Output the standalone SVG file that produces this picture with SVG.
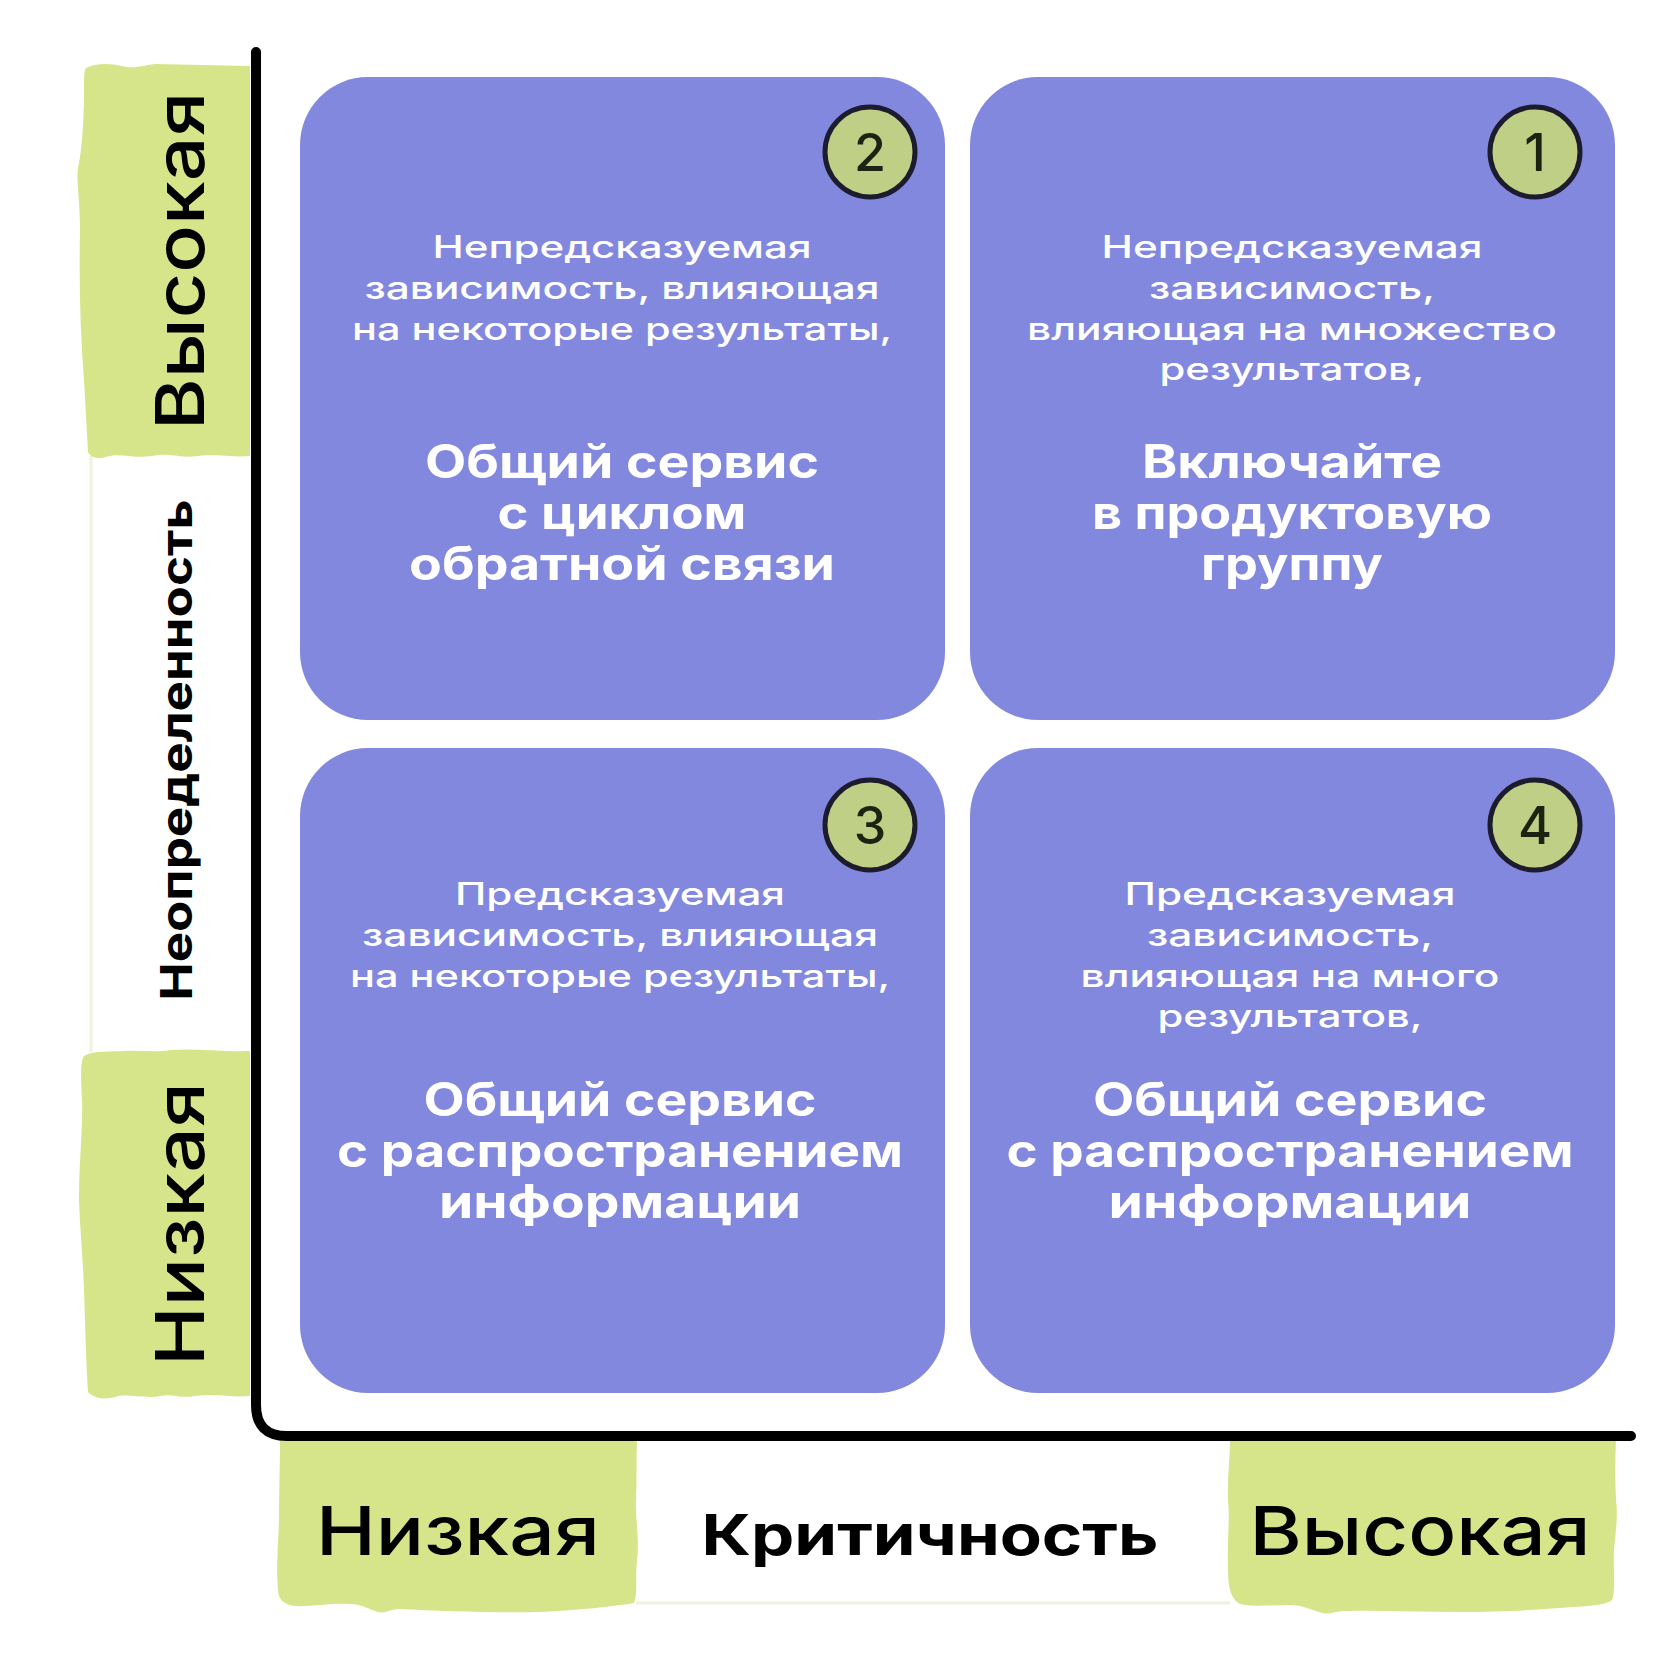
<svg xmlns="http://www.w3.org/2000/svg" width="1680" height="1675" viewBox="0 0 1680 1675">
<style>
.card{fill:#8388df}
.tape{fill:#d6e58a}
.badge{fill:#bfd086;stroke:#1c1c2e;stroke-width:5}
.num{font-family:Inter,"Liberation Sans",sans-serif;font-size:52px;font-weight:500;fill:#1d2212;text-anchor:middle}
.sub{font-family:Inter,"Liberation Sans",sans-serif;font-size:31px;font-weight:500;fill:#ffffff;text-anchor:middle}
.bold{font-family:Inter,"Liberation Sans",sans-serif;font-size:46px;font-weight:700;fill:#ffffff;text-anchor:middle}
.lab{font-family:Inter,"Liberation Sans",sans-serif;font-size:68px;font-weight:500;fill:#000000;text-anchor:middle}
.labb{font-family:Inter,"Liberation Sans",sans-serif;font-weight:700;fill:#000000;text-anchor:middle}
.axis{fill:none;stroke:#000000;stroke-width:10;stroke-linecap:round;stroke-linejoin:round}
</style>
<rect width="1680" height="1675" fill="#ffffff"/>

<g id="y-labels">
  <rect x="90" y="452" width="160" height="602" fill="#ffffff"/>
  <line x1="91" y1="456" x2="91" y2="1052" stroke="#eef3dc" stroke-width="3"/>
  <path class="tape" d="M86,68 C95,63 110,63 122,66 C132,69 140,66 155,64 L250,66 L250,456 C232,458 215,453 198,456 C182,459 170,452 152,456 C135,459 118,452 106,457 C96,460 90,456 88,452 L84,380 C80,330 79,280 80,230 C80,200 76,180 78,168 C82,150 84,120 84,90 C84,78 84,72 86,68 Z"/>
  <path class="tape" d="M84,1056 C95,1050 110,1052 125,1051 C140,1050 155,1053 170,1050 C195,1048 220,1052 250,1051 L250,1396 C235,1398 215,1393 195,1396 C180,1399 172,1393 160,1396 C145,1399 128,1393 115,1397 C100,1401 92,1396 88,1392 C86,1360 85,1320 84,1290 C83,1260 80,1230 79,1200 C79,1160 83,1130 82,1100 C81,1080 80,1062 84,1056 Z"/>
  <text class="lab" transform="translate(204,261) rotate(-90)" textLength="338" lengthAdjust="spacingAndGlyphs">Высокая</text>
  <text class="labb" font-size="44" transform="translate(192,750) rotate(-90)" textLength="501" lengthAdjust="spacingAndGlyphs">Неопределенность</text>
  <text class="lab" transform="translate(204,1224) rotate(-90)" textLength="284" lengthAdjust="spacingAndGlyphs">Низкая</text>
</g>

<g id="x-labels">
  <rect x="634" y="1440" width="596" height="164" fill="#ffffff"/>
  <line x1="636" y1="1603" x2="1230" y2="1603" stroke="#eef3dc" stroke-width="3"/>
  <path class="tape" d="M280,1440 L637,1440 C636,1460 637,1480 636,1500 C635,1520 640,1540 637,1560 C635,1580 638,1595 634,1603 C610,1607 580,1610 540,1612 C500,1613 440,1611 400,1609 C390,1609 385,1614 378,1612 C370,1610 362,1604 350,1604 C330,1603 310,1607 295,1606 C283,1605 278,1598 278,1590 C276,1570 278,1550 279,1520 C279,1490 280,1465 280,1440 Z"/>
  <path class="tape" d="M1230,1440 L1616,1440 C1615,1460 1615,1480 1616,1500 C1618,1515 1616,1530 1614,1550 C1613,1570 1616,1590 1612,1600 C1605,1606 1585,1606 1560,1608 C1530,1610 1500,1612 1460,1612 C1420,1612 1380,1610 1345,1611 C1335,1611 1330,1615 1322,1613 C1312,1610 1302,1605 1290,1605 C1270,1605 1250,1607 1240,1604 C1232,1600 1228,1590 1228,1570 C1227,1540 1230,1520 1228,1500 C1227,1480 1230,1460 1230,1440 Z"/>
  <text class="lab" x="458" y="1555" textLength="284" lengthAdjust="spacingAndGlyphs">Низкая</text>
  <text class="labb" font-size="56" x="930" y="1555" textLength="457" lengthAdjust="spacingAndGlyphs">Критичность</text>
  <text class="lab" x="1420" y="1555" textLength="341" lengthAdjust="spacingAndGlyphs">Высокая</text>
</g>

<g id="connectors">
  <path class="axis" d="M256,52 L256,1405 Q256,1436 287,1436 L1631,1436"/>
</g>

<g id="card-2">
  <rect class="card" x="300" y="77" width="645" height="643" rx="68"/>
  <circle class="badge" cx="870" cy="152" r="45"/>
  <text class="num" x="870" y="171">2</text>
  <text class="sub" x="622" y="258" textLength="379" lengthAdjust="spacingAndGlyphs">Непредсказуемая</text>
  <text class="sub" x="622" y="299" textLength="515" lengthAdjust="spacingAndGlyphs">зависимость, влияющая</text>
  <text class="sub" x="622" y="340" textLength="540" lengthAdjust="spacingAndGlyphs">на некоторые результаты,</text>
  <text class="bold" x="622" y="478" textLength="394" lengthAdjust="spacingAndGlyphs">Общий сервис</text>
  <text class="bold" x="622" y="529" textLength="249" lengthAdjust="spacingAndGlyphs">с циклом</text>
  <text class="bold" x="622" y="580" textLength="426" lengthAdjust="spacingAndGlyphs">обратной связи</text>
</g>

<g id="card-1">
  <rect class="card" x="970" y="77" width="645" height="643" rx="68"/>
  <circle class="badge" cx="1535" cy="152" r="45"/>
  <text class="num" x="1535" y="171">1</text>
  <text class="sub" x="1292" y="258" textLength="381" lengthAdjust="spacingAndGlyphs">Непредсказуемая</text>
  <text class="sub" x="1292" y="299" textLength="286" lengthAdjust="spacingAndGlyphs">зависимость,</text>
  <text class="sub" x="1292" y="340" textLength="530" lengthAdjust="spacingAndGlyphs">влияющая на множество</text>
  <text class="sub" x="1292" y="380" textLength="265" lengthAdjust="spacingAndGlyphs">результатов,</text>
  <text class="bold" x="1292" y="478" textLength="300" lengthAdjust="spacingAndGlyphs">Включайте</text>
  <text class="bold" x="1292" y="529" textLength="400" lengthAdjust="spacingAndGlyphs">в продуктовую</text>
  <text class="bold" x="1292" y="580" textLength="182" lengthAdjust="spacingAndGlyphs">группу</text>
</g>

<g id="card-3">
  <rect class="card" x="300" y="748" width="645" height="645" rx="68"/>
  <circle class="badge" cx="870" cy="825" r="45"/>
  <text class="num" x="870" y="844">3</text>
  <text class="sub" x="620" y="905" textLength="330" lengthAdjust="spacingAndGlyphs">Предсказуемая</text>
  <text class="sub" x="620" y="946" textLength="516" lengthAdjust="spacingAndGlyphs">зависимость, влияющая</text>
  <text class="sub" x="620" y="987" textLength="540" lengthAdjust="spacingAndGlyphs">на некоторые результаты,</text>
  <text class="bold" x="620" y="1116" textLength="393" lengthAdjust="spacingAndGlyphs">Общий сервис</text>
  <text class="bold" x="620" y="1167" textLength="566" lengthAdjust="spacingAndGlyphs">с распространением</text>
  <text class="bold" x="620" y="1218" textLength="362" lengthAdjust="spacingAndGlyphs">информации</text>
</g>

<g id="card-4">
  <rect class="card" x="970" y="748" width="645" height="645" rx="68"/>
  <circle class="badge" cx="1535" cy="825" r="45"/>
  <text class="num" x="1535" y="844">4</text>
  <text class="sub" x="1290" y="905" textLength="331" lengthAdjust="spacingAndGlyphs">Предсказуемая</text>
  <text class="sub" x="1290" y="946" textLength="286" lengthAdjust="spacingAndGlyphs">зависимость,</text>
  <text class="sub" x="1290" y="987" textLength="419" lengthAdjust="spacingAndGlyphs">влияющая на много</text>
  <text class="sub" x="1290" y="1027" textLength="265" lengthAdjust="spacingAndGlyphs">результатов,</text>
  <text class="bold" x="1290" y="1116" textLength="394" lengthAdjust="spacingAndGlyphs">Общий сервис</text>
  <text class="bold" x="1290" y="1167" textLength="567" lengthAdjust="spacingAndGlyphs">с распространением</text>
  <text class="bold" x="1290" y="1218" textLength="363" lengthAdjust="spacingAndGlyphs">информации</text>
</g>
</svg>
